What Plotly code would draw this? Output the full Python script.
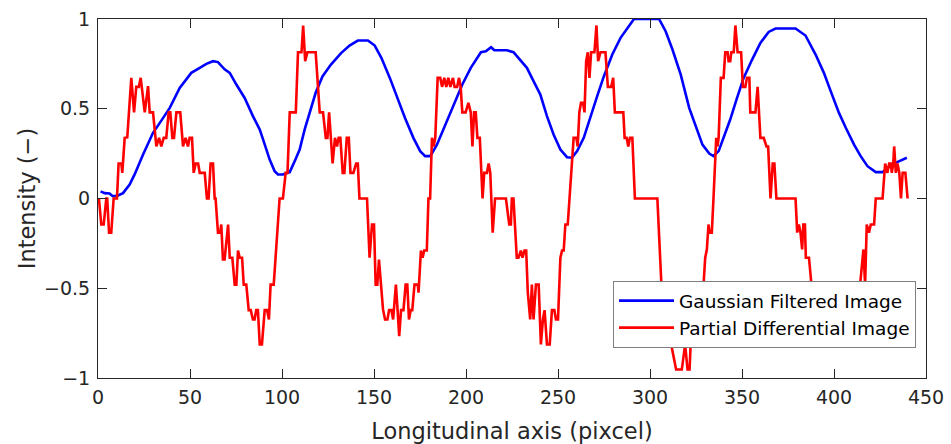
import plotly.graph_objects as go

# ---- data ----
blue_x = [1.4, 3.6, 6.3, 8, 10.9, 13.6, 17.2, 19.9, 24.5, 29.9, 33.5, 39, 44.4, 50.7, 55.3, 58.9, 62.5, 65.2,
          68.8, 71.6, 75.2, 79.7, 84.2, 87.9, 89.7, 93.3, 96, 97.8, 100.5, 104.2, 106.9, 109.6, 112.3, 115.6,
          118.3, 122, 126.6, 132.1, 136.7, 141.2, 146.7, 150.4, 154, 158.6, 162.3, 166.8, 171.4, 175.1, 177.8,
          180.6, 184.2, 188.8, 193.4, 198, 202.6, 208.1, 210.8, 213.6, 215.4, 222.2, 225.8, 229.5, 233.1, 236.7,
          240.4, 244, 247.6, 251.3, 254.9, 257.6, 260.4, 264, 267.6, 271.3, 274.9, 279.5, 284, 287.6, 291.3,
          304.9, 308.5, 312.2, 316.7, 321.3, 324.9, 328.5, 332.2, 334.5, 337.3, 340, 343.6, 347.3, 350.9, 355.5,
          360, 364.5, 368.2, 379.1, 384.5, 390, 394.5, 398.2, 402.7, 406.4, 410.9, 414.5, 418.2, 422.7, 426.4,
          429.1, 431.8, 435.5, 439.6]
blue_y = [0.04, 0.03, 0.028, 0.013, 0.017, 0.03, 0.078, 0.134, 0.245, 0.366, 0.42, 0.505, 0.616, 0.70, 0.728,
          0.75, 0.765, 0.76, 0.72, 0.70, 0.635, 0.56, 0.459, 0.384, 0.329, 0.217, 0.152, 0.134, 0.134, 0.147,
          0.208, 0.273, 0.384, 0.496, 0.589, 0.68, 0.746, 0.81, 0.852, 0.88, 0.88, 0.852, 0.784, 0.672, 0.57,
          0.45, 0.338, 0.264, 0.236, 0.236, 0.30, 0.412, 0.524, 0.635, 0.728, 0.815, 0.82, 0.843, 0.826, 0.826,
          0.815, 0.774, 0.728, 0.654, 0.579, 0.459, 0.357, 0.273, 0.23, 0.227, 0.264, 0.338, 0.459, 0.57, 0.68,
          0.802, 0.895, 0.95, 1.0, 1.0, 0.932, 0.83, 0.69, 0.505, 0.403, 0.30, 0.25, 0.236, 0.264, 0.338, 0.44,
          0.56, 0.672, 0.774, 0.867, 0.928, 0.947, 0.947, 0.908, 0.802, 0.70, 0.598, 0.477, 0.394, 0.30, 0.236,
          0.18, 0.147, 0.147, 0.171, 0.19, 0.208, 0.227]

red_x = [0.5, 1.8, 3.1, 4.5, 5, 6, 7.2, 8.5, 10.3, 11.2, 12.7, 13.2, 14.5, 15.9, 18.1, 19.6, 20.8, 22.2, 23.2,
         25.4, 27.2, 28.1, 29.9, 31.7, 33.2, 34.4, 35.7, 37.1, 38.4, 39.3, 40.4, 41.3, 42.6, 44.7, 46.2, 47.6,
         48.9, 49.8, 51.1, 52, 53.1, 54.4, 55.3, 58, 59.2, 60.1, 61.2, 62.5, 63.4, 63.9, 65.2, 66.4, 67, 67.9,
         68.8, 70.7, 71.6, 73, 74.3, 75.2, 76.1, 77, 78.3, 79.2, 80.6, 81.9, 83, 84.2, 85.1, 86, 86.9, 87.9,
         89.1, 90.6, 91.9, 92.9, 93.8, 95.5, 98.7, 100.5, 102, 103, 104.2, 107.5, 108.7, 110.6, 111.5, 112.6,
         113.8, 118.3, 120.5, 122.3, 123.8, 124.7, 125.6, 127.5, 128.8, 129.9, 130.8, 131.7, 133, 133.9, 135.2,
         136.3, 137.2, 138.8, 140.3, 141.2, 142.1, 146.2, 147.6, 148.9, 150, 150.9, 151.8, 152.7, 153.4, 154.9,
         156, 157.3, 158.2, 159.5, 160.4, 161.9, 162.8, 163.7, 164.7, 166, 167.2, 168.1, 169, 169.9, 170.8, 172,
         173.8, 174.2, 175.5, 176.4, 177.3, 178.7, 179.6, 180.5, 181.5, 182.4, 183.3, 184.6, 186, 187, 188.2,
         189.3, 190.4, 191.5, 192.9, 193.8, 195.2, 196.2, 197.1, 198, 199.8, 201.3, 202.6, 203.5, 204.4, 205.3,
         206.2, 207.5, 209, 209.9, 211.4, 212.3, 213.2, 214.5, 215.8, 221.7, 223.5, 224.4, 224.9, 225.8, 227.6,
         228.5, 229.8, 230.7, 231.8, 232.7, 233.6, 234.9, 235.8, 236.7, 238, 239.5, 240.7, 241.8, 242.7, 244,
         245.5, 246.7, 248, 248.9, 250, 251.3, 252.2, 253.1, 254, 255.3, 258.5, 260, 260.7, 261.6, 262.5, 263.6,
         264.4, 265.3, 266.2, 267.1, 268, 269.8, 270.9, 271.8, 273.1, 275.8, 277.1, 278.9, 280, 280.9, 285.5,
         286.2, 287.3, 288.2, 289.1, 290.4, 291.8, 304, 306.2, 308, 309.9, 311.5, 313, 314.2, 317.3, 319.1,
         320.4, 321.5, 322.2, 324, 326, 328, 329.1, 330, 330.9, 331.8, 332.4, 333.6, 334.5, 336, 336.7, 337.3,
         338.5, 340, 340.9, 342.2, 342.7, 343.6, 344.2, 345.5, 346.4, 347.6, 349.5, 350.5, 351.8, 352.7, 354,
         354.5, 357.3, 358.5, 360, 361.8, 363.3, 364.2, 365.5, 366.7, 367.6, 368.7, 379.1, 380, 380.9, 381.8,
         382.7, 383.3, 384.2, 384.7, 386.4, 387.6, 389, 392, 395, 399, 404, 408, 412, 414, 415, 415.5, 416,
         416.9, 417.8, 419, 420, 421.8, 422.7, 426.4, 427.8, 429, 430, 430.9, 431.4, 432.2, 432.7, 433.6, 434.5,
         435.5, 436.4, 437.3, 438.8, 440]
red_y = [0, -0.145, -0.145, 0, 0, -0.19, -0.19, 0, 0, 0.195, 0.195, 0.143, 0.338, 0.34, 0.672, 0.48, 0.622,
         0.622, 0.672, 0.48, 0.626, 0.48, 0.48, 0.29, 0.338, 0.29, 0.338, 0.338, 0.48, 0.48, 0.338, 0.338, 0.48,
         0.48, 0.29, 0.338, 0.29, 0.338, 0.338, 0.143, 0.195, 0.195, 0.143, 0.143, 0, 0, 0.195, 0.195, 0, 0,
         -0.19, -0.19, -0.145, -0.34, -0.34, -0.145, -0.33, -0.33, -0.48, -0.48, -0.29, -0.33, -0.33, -0.48,
         -0.48, -0.622, -0.622, -0.674, -0.674, -0.622, -0.622, -0.813, -0.813, -0.622, -0.622, -0.674, -0.48,
         -0.48, 0, 0, 0.143, 0.143, 0.48, 0.48, 0.815, 0.815, 0.964, 0.765, 0.815, 0.815, 0.48, 0.48, 0.338,
         0.338, 0.48, 0.195, 0.338, 0.29, 0.338, 0.338, 0.143, 0.143, 0.338, 0.338, 0.143, 0.143, 0.195, 0.195,
         0, 0, -0.33, -0.145, -0.145, -0.48, -0.48, -0.34, -0.43, -0.618, -0.674, -0.674, -0.622, -0.622,
         -0.674, -0.48, -0.618, -0.767, -0.622, -0.622, -0.48, -0.48, -0.674, -0.622, -0.622, -0.48, -0.48,
         -0.525, -0.29, -0.33, -0.29, -0.29, 0, 0, 0.338, 0.29, 0.338, 0.672, 0.672, 0.622, 0.672, 0.622, 0.672,
         0.622, 0.672, 0.622, 0.622, 0.672, 0.622, 0.48, 0.48, 0.533, 0.48, 0.29, 0.48, 0.48, 0.338, 0.338, 0,
         0.143, 0.143, 0.195, 0.143, -0.19, 0, 0, -0.145, -0.145, 0, 0, -0.33, -0.33, -0.29, -0.33, -0.29,
         -0.29, -0.525, -0.674, -0.48, -0.674, -0.48, -0.48, -0.813, -0.674, -0.622, -0.813, -0.813, -0.622,
         -0.622, -0.674, -0.674, -0.33, -0.29, -0.29, -0.145, -0.145, 0.338, 0.338, 0.29, 0.48, 0.533, 0.533,
         0.48, 0.765, 0.815, 0.672, 0.815, 0.815, 0.964, 0.765, 0.815, 0.815, 0.622, 0.622, 0.672, 0.48, 0.48,
         0.338, 0.338, 0.29, 0.338, 0.338, 0, 0, -0.48, -0.62, -0.774, -0.813, -0.9, -0.953, -0.953, -0.813,
         -0.953, -0.953, -0.786, -0.7, -0.674, -0.6, -0.48, -0.33, -0.284, -0.145, -0.19, -0.19, 0, 0.338, 0.29,
         0.338, 0.672, 0.672, 0.815, 0.815, 0.765, 0.765, 0.815, 0.815, 0.964, 0.815, 0.815, 0.622, 0.622, 0.672,
         0.672, 0.48, 0.48, 0.622, 0.338, 0.338, 0.29, 0.29, 0, 0.195, 0.195, 0, 0, -0.19, -0.145, -0.19,
         -0.284, -0.145, -0.145, -0.33, -0.33, -0.48, -0.62, -0.674, -0.62, -0.674, -0.72, -0.674, -0.622, -0.5,
         -0.4, -0.33, -0.284, -0.48, -0.145, -0.19, -0.145, -0.145, 0, 0, 0.195, 0.143, 0.195, 0.195, 0.143,
         0.195, 0.29, 0.143, 0.195, 0.143, 0, 0.143, 0.143, 0]

x_ticks = [0, 50, 100, 150, 200, 250, 300, 350, 400, 450]
y_ticks = [-1, -0.5, 0, 0.5, 1]
y_tick_text = ["\u22121", "\u22120.5", "0", "0.5", "1"]

FONT = "DejaVu Sans"
INK = "#262626"

fig = go.Figure()
fig.add_trace(go.Scatter(x=blue_x, y=blue_y, mode="lines", name="Gaussian Filtered Image",
                         line=dict(color="#0000ff", width=2.6)))
fig.add_trace(go.Scatter(x=red_x, y=red_y, mode="lines", name="Partial Differential Image",
                         line=dict(color="#ff0000", width=2.6)))

axis_common = dict(showline=True, linecolor=INK, linewidth=1, mirror="ticks", ticks="inside",
                   ticklen=9, tickcolor=INK, tickwidth=1, showgrid=False, zeroline=False,
                   automargin=False,
                   tickfont=dict(family=FONT, size=19, color=INK))

fig.update_layout(
    width=951, height=444,
    margin=dict(l=98, r=25, t=19, b=66),
    paper_bgcolor="white", plot_bgcolor="white",
    font=dict(family=FONT, color=INK),
    xaxis=dict(range=[0, 450], tickvals=x_ticks, ticklabelstandoff=2,
               title=dict(text="Longitudinal axis (pixcel)", font=dict(family=FONT, size=22.5, color=INK), standoff=16),
               **axis_common),
    yaxis=dict(range=[-1, 1], tickvals=y_ticks, ticktext=y_tick_text, ticklabelstandoff=3,
               title=dict(text="Intensity (\u2212)", font=dict(family=FONT, size=22.5, color=INK), standoff=2),
               **axis_common),
    legend=dict(x=0.622, y=0.27, xanchor="left", yanchor="top",
                bgcolor="white", bordercolor="#7f7f7f", borderwidth=1,
                font=dict(family=FONT, size=18.5, color="black"), itemwidth=55,
                tracegroupgap=0),
    showlegend=True,
)

fig.write_html("out.html")
